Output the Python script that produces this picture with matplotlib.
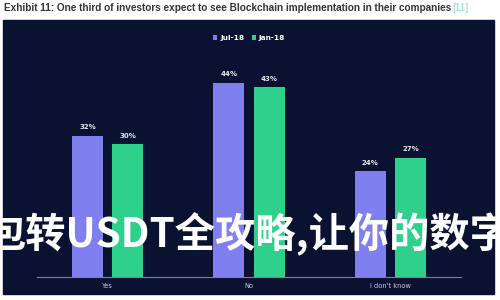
import matplotlib.pyplot as plt
from matplotlib.patches import Rectangle

# data
categories = ["Yes", "No", "I don't know"]
jul18 = [32, 44, 24]
jan18 = [30, 43, 27]
series_names = ["Jul-18", "Jan-18"]

navy = "#0a1131"
purple = "#7f7ff0"
green = "#2fcf8c"

fig = plt.figure(figsize=(5, 3), dpi=100)
fig.patch.set_facecolor("white")

# dark panel behind the chart
fig.patches.append(Rectangle((3 / 500, 6 / 300), 491 / 500, 274 / 300,
                             transform=fig.transFigure, color=navy, zorder=-5))

# title
fig.text(4 / 500, 1 - 8 / 300, "Exhibit 11: One third of investors expect to see Blockchain implementation in their companies",
         fontsize=7.2, fontweight="bold", color="#333333", family="Liberation Sans", va="center")
fig.text(452 / 500, 1 - 8 / 300, "[11]", fontsize=7.2, color="#8fd6c6",
         family="Liberation Sans", va="center")

ax = fig.add_axes([37 / 500, 23 / 300, 424 / 500, 221 / 300])
ax.set_facecolor("none")
ax.set_zorder(2)

x = range(len(categories))
w = 0.22
off = 0.142
b1 = ax.bar([i - off for i in x], jul18, w, color=purple, label=series_names[0])
b2 = ax.bar([i + off for i in x], jan18, w, color=green, label=series_names[1])

for bars, vals in ((b1, jul18), (b2, jan18)):
    for r, v in zip(bars, vals):
        ax.text(r.get_x() + r.get_width() / 2, v + 1.2, f"{v}%", ha="center", va="bottom",
                fontsize=5, color="#e6e8f2", fontweight="bold")

ax.set_xlim(-0.5, 2.5)
ax.set_ylim(0, 50)
ax.set_xticks(list(x))
ax.set_xticklabels(categories, fontsize=4.8, color="#c8ccd8")
ax.tick_params(axis="x", length=0, pad=4)
ax.set_yticks([])
for s in ["top", "right", "left"]:
    ax.spines[s].set_visible(False)
ax.spines["bottom"].set_color("#7d8499")
ax.spines["bottom"].set_linewidth(0.8)

leg = ax.legend(loc="center", bbox_to_anchor=(0.5, 1.082), ncol=2, frameon=False,
                fontsize=5.3, handlelength=0.6, handleheight=0.6, columnspacing=1.0,
                handletextpad=0.4)
for t in leg.get_texts():
    t.set_color("white")
    t.set_fontweight("bold")

# overlay text across the chart
fig.text(-14 / 500, 1 - 234 / 300, "包转USDT全攻略,让你的数字", fontsize=29, color="white",
         fontweight="bold", family=["Noto Sans CJK SC", "DejaVu Sans"], va="center", zorder=10)

fig.savefig("out.png", dpi=100)
